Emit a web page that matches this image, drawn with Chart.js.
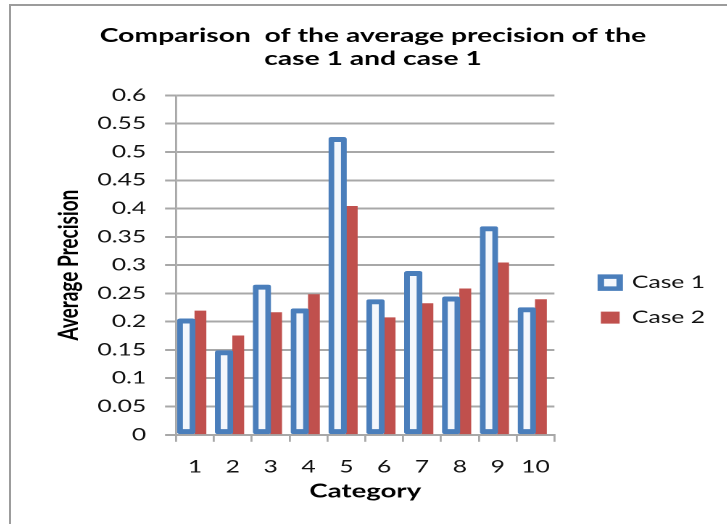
<!DOCTYPE html>
<html>
<head>
<meta charset="utf-8">
<script src="https://cdn.jsdelivr.net/npm/chart.js@4"></script>
<style>
    html, body { margin: 0; padding: 0; background: #fff; overflow: hidden; }
    #frame {
        position: absolute; left: 9px; top: 4px; width: 900px; height: 700px;
        border-left: 2px solid #9c9c9c; border-top: 2px solid #9c9c9c;
    }
    /* the original picture is stretched sideways, so the chart is drawn narrow and widened */
    #wrap {
        position: absolute; left: 9px; top: 0; width: 502px; height: 524px;
        transform: scaleX(1.45); transform-origin: 0 0;
    }
</style>
</head>
<body>
<div id="frame"></div>
<div id="wrap"><canvas id="precisionChart"></canvas></div>
<script>
const categories = ['1', '2', '3', '4', '5', '6', '7', '8', '9', '10'];
const case1 = [0.205, 0.149, 0.265, 0.223, 0.526, 0.239, 0.289, 0.244, 0.368, 0.225];
const case2 = [0.219, 0.175, 0.216, 0.248, 0.404, 0.207, 0.232, 0.258, 0.304, 0.239];
const yTicks = [0, 0.05, 0.1, 0.15, 0.2, 0.25, 0.3, 0.35, 0.4, 0.45, 0.5, 0.55, 0.6];
const titleLines = ['Comparison  of the average precision of the', 'case 1 and case 1'];

const GRID = '#a8a8a8';
const FONT = 'Lato';

// move the legend a bit right and down, and re-centre the title on the whole chart
const layoutShift = {
    id: 'layoutShift',
    afterLayout(chart) {
        const lg = chart.legend;
        lg.left += 14; lg.right += 14;
        lg.top += 35; lg.bottom += 35;
        const tb = chart.titleBlock;
        tb.left += 13; tb.right += 13;
    }
};

new Chart(document.getElementById('precisionChart'), {
    type: 'bar',
    data: {
        labels: categories,
        datasets: [{
            label: 'Case 1',
            data: case1,
            backgroundColor: '#f4f7fc',
            borderColor: '#4a7ebb',
            borderWidth: {top: 5, bottom: 5, left: 4, right: 4},
            borderSkipped: false,
            borderRadius: 2,
            barThickness: 12
        }, {
            label: 'Case 2',
            data: case2,
            backgroundColor: '#c0504d',
            borderWidth: 0,
            barThickness: 7.5
        }]
    },
    options: {
        responsive: true,
        maintainAspectRatio: false,
        animation: false,
        devicePixelRatio: 2,
        layout: { padding: {top: 0, left: 0, right: 26, bottom: 0} },
        plugins: {
            title: {
                display: true,
                text: titleLines,
                color: '#000',
                font: {family: FONT, size: 19.5, weight: 'bold', lineHeight: 1.19},
                padding: {top: 24, bottom: 25}
            },
            legend: {
                position: 'right',
                fullSize: false,
                labels: {
                    boxWidth: 13,
                    boxHeight: 12,
                    padding: 18,
                    color: '#111',
                    font: {family: FONT, size: 17}
                }
            },
            tooltip: { enabled: false }
        },
        scales: {
            x: {
                grid: { drawOnChartArea: false, drawTicks: true, tickLength: 7, color: GRID, lineWidth: 1.4 },
                border: { display: true, color: GRID, width: 2 },
                ticks: { color: '#111', padding: 15, maxRotation: 0, font: {family: FONT, size: 17} },
                title: {
                    display: true,
                    text: 'Category',
                    color: '#000',
                    font: {family: FONT, size: 19, weight: 'bold'},
                    padding: {top: -12, bottom: 21}
                }
            },
            y: {
                min: 0,
                max: 0.6,
                afterBuildTicks: s => { s.ticks = yTicks.map(v => ({value: v})); },
                afterFit: s => { s.width = 115.2; },
                ticks: {
                    color: '#111',
                    padding: 13,
                    font: {family: FONT, size: 17},
                    callback: v => String(v)
                },
                grid: { color: GRID, lineWidth: 2, tickLength: 7.6 },
                border: { display: true, color: GRID, width: 1.4 },
                title: {
                    display: true,
                    text: 'Average Precision',
                    color: '#000',
                    font: {family: FONT, size: 19, weight: 'bold'},
                    padding: {top: 30, bottom: 0}
                }
            }
        }
    },
    plugins: [layoutShift]
});
</script>
</body>
</html>
